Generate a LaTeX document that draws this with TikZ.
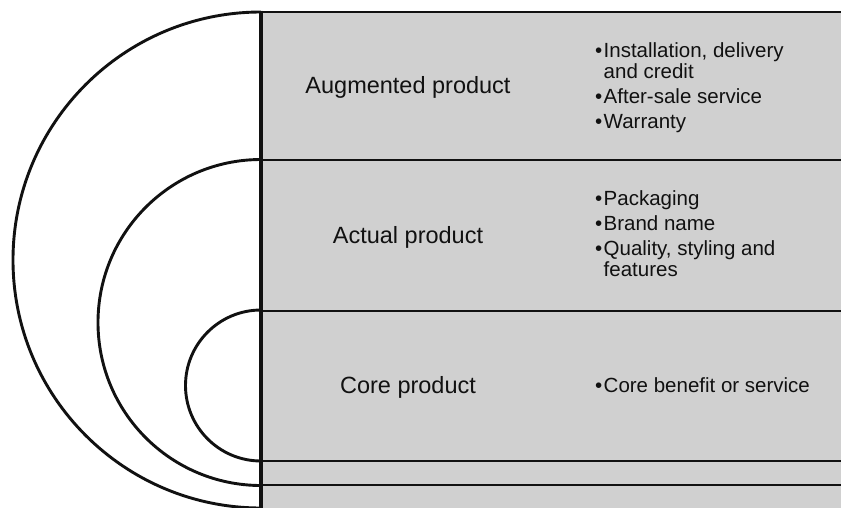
\documentclass[tikz,border=0pt]{standalone}
\usepackage{fontspec}
\setmainfont{Liberation Sans}
\usepackage{xcolor}
\definecolor{ink}{HTML}{111111}
\definecolor{bandc}{HTML}{D0D0D0}
\usetikzlibrary{positioning}
\newcommand{\bitem}{\makebox[11.5pt][r]{\textbullet\hspace{1.5pt}}}
\newcommand{\bcont}{\hspace*{11.5pt}}

\begin{document}
\begin{tikzpicture}[x=1pt,y=-1pt,every node/.style={font=\fontsize{20.5}{21}\selectfont,text=ink}]
\tikzstyle{level}=[font=\fontsize{23.5}{28}\selectfont,anchor=base,inner sep=0pt]
\tikzstyle{list}=[anchor=north west,align=left,inner sep=0pt]
\tikzstyle{rule}=[draw=ink,line width=2.9pt]
\useasboundingbox (0,0) rectangle (841,507);
\fill[bandc] (261,12) rectangle (845,510);
% the three nested half rings
\begin{scope}
\clip (0,0) rectangle (261,507);
\draw[rule] (261,260) circle[radius=248];
\draw[rule] (261,322.5) circle[radius=163];
\draw[rule] (261,385.5) circle[radius=75.5];
\end{scope}
\foreach \y in {12,160,311,461,485}
  \draw[rule] (261,\y) -- (845,\y);
\draw[rule,line width=3.4pt] (261,10.5) -- (261,510);
% levels
\node[level] (aug) at (408,93) {Augmented product};
\node[level] (act) at (408,243) {Actual product};
\node[level] (core) at (408,393) {Core product};
% what each level holds
\node[list] (augl) at (592,42.3) {\bitem Installation, delivery\\\bcont and credit\\[4pt]\bitem After-sale service\\[4pt]\bitem Warranty};
\node[list] (actl) at (592,190.3) {\bitem Packaging\\[4pt]\bitem Brand name\\[4pt]\bitem Quality, styling and\\\bcont features};
\node[list] (corel) at (592,377) {\bitem Core benefit or service};
\end{tikzpicture}
\end{document}
